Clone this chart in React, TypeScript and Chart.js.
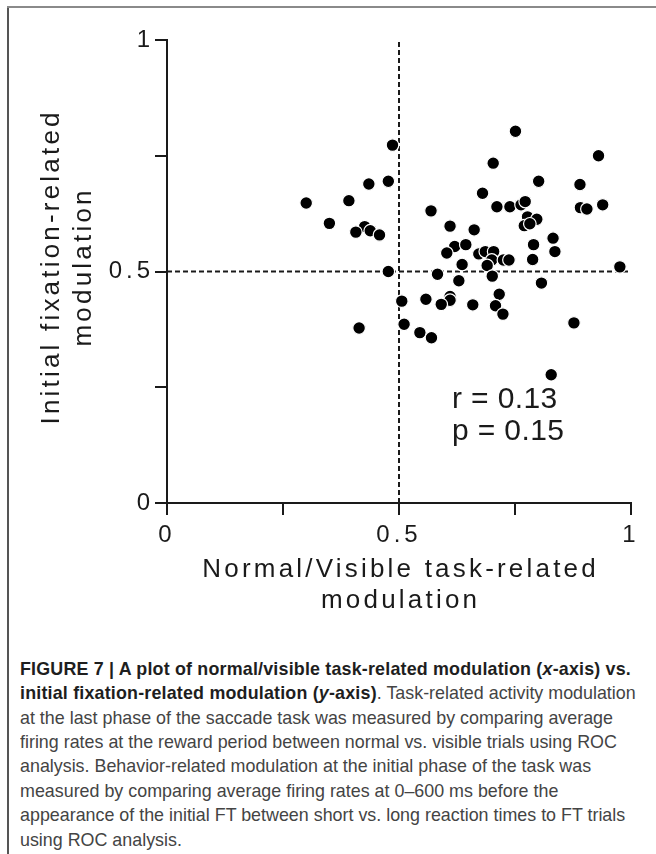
import React, { useEffect, useLayoutEffect, useRef } from 'react';
import { Chart, registerables } from 'chart.js';

Chart.register(...registerables);

// ---- data ----
const xValues = [
  0.486, 0.477, 0.435, 0.392, 0.300, 0.350, 0.426, 0.407, 0.438, 0.458, 0.477,
  0.751, 0.930, 0.703, 0.801, 0.890, 0.680, 0.569, 0.711, 0.739, 0.763, 0.772,
  0.891, 0.905, 0.939, 0.610, 0.777, 0.797, 0.770, 0.782, 0.662, 0.832, 0.620,
  0.644, 0.603, 0.790, 0.836, 0.672, 0.686, 0.704, 0.700, 0.690, 0.725, 0.737,
  0.788, 0.636, 0.976, 0.583, 0.629, 0.701, 0.807, 0.716, 0.506, 0.558, 0.610,
  0.610, 0.591, 0.659, 0.708, 0.724, 0.877, 0.511, 0.545, 0.570, 0.414, 0.828,
];
const yValues = [
  0.773, 0.695, 0.689, 0.653, 0.648, 0.604, 0.597, 0.585, 0.588, 0.579, 0.500,
  0.803, 0.750, 0.734, 0.695, 0.688, 0.669, 0.631, 0.640, 0.640, 0.644, 0.651,
  0.638, 0.635, 0.644, 0.598, 0.618, 0.613, 0.599, 0.603, 0.590, 0.572, 0.554,
  0.558, 0.540, 0.558, 0.543, 0.538, 0.543, 0.543, 0.525, 0.513, 0.525, 0.525,
  0.526, 0.515, 0.510, 0.494, 0.480, 0.490, 0.475, 0.451, 0.436, 0.440, 0.446,
  0.438, 0.429, 0.428, 0.426, 0.408, 0.389, 0.386, 0.368, 0.357, 0.378, 0.277,
];
const labeledTicks = [0, 0.5, 1];
const vRefX = [0.5, 0.5];
const vRefY = [0, 1];
const hRefX = [0, 1];
const hRefY = [0.5, 0.5];
const statLines = ['r = 0.13', 'p = 0.15'];
const xTitleLines = ['Normal/Visible task-related', 'modulation'];
const yTitleLines = ['Initial fixation-related', 'modulation'];

const AXIS_FONT = 'Arial, "Liberation Sans", Helvetica, sans-serif';
const INK = '#1a1a1a';

const textPlugin = {
  id: 'figureTexts',
  beforeDraw(chart: any) {
    chart.ctx.letterSpacing = '4px';
  },
  afterDraw(chart: any) {
    const { ctx, chartArea, scales } = chart;
    ctx.save();
    ctx.fillStyle = INK;
    ctx.font = `26px ${AXIS_FONT}`;
    ctx.letterSpacing = '3.2px';
    ctx.textAlign = 'center';
    ctx.textBaseline = 'alphabetic';
    const cx = (chartArea.left + chartArea.right) / 2 + 1.6;
    xTitleLines.forEach((t, i) => ctx.fillText(t, cx, chartArea.bottom + 74 + i * 31));
    const cy = (chartArea.top + chartArea.bottom) / 2 - 3;
    ctx.save();
    ctx.translate(51, cy);
    ctx.rotate(-Math.PI / 2);
    yTitleLines.forEach((t, i) => ctx.fillText(t, 1.6, i * 32));
    ctx.restore();

    ctx.font = `30px ${AXIS_FONT}`;
    ctx.letterSpacing = '0.4px';
    ctx.textAlign = 'left';
    const sx = scales.x.getPixelForValue(0.614);
    const sy = [0.205, 0.136];
    statLines.forEach((t, i) => ctx.fillText(t, sx, scales.y.getPixelForValue(sy[i])));
    ctx.restore();
  },
};

function ScatterFigure() {
  const canvasRef = useRef<HTMLCanvasElement | null>(null);

  useEffect(() => {
    document.body.style.overflow = 'hidden';
    const canvas = canvasRef.current;
    if (!canvas) return;
    const tickFont = { size: 24, family: AXIS_FONT };
    const gridOpts = {
      display: true,
      drawOnChartArea: false,
      drawTicks: true,
      tickLength: 12,
      lineWidth: 2,
      tickWidth: 2,
      color: INK,
      tickColor: INK,
    };
    const chart = new Chart(canvas, {
      type: 'scatter',
      data: {
        datasets: [
          {
            data: xValues.map((x, i) => ({ x, y: yValues[i] })),
            pointRadius: 6.3,
            pointHoverRadius: 6.3,
            backgroundColor: '#000',
            borderColor: '#fff',
            borderWidth: 1.2,
            order: 0,
          },
          {
            data: vRefX.map((x, i) => ({ x, y: vRefY[i] })),
            showLine: true,
            pointRadius: 0,
            borderColor: INK,
            borderWidth: 2,
            borderDash: [5, 3],
            order: 1,
          },
          {
            data: hRefX.map((x, i) => ({ x, y: hRefY[i] })),
            showLine: true,
            pointRadius: 0,
            borderColor: INK,
            borderWidth: 2,
            borderDash: [5, 3],
            order: 1,
          },
        ],
      },
      options: {
        animation: false,
        responsive: false,
        devicePixelRatio: 1,
        layout: { padding: { top: 32, right: 25, left: 0, bottom: 0 } },
        plugins: { legend: { display: false }, tooltip: { enabled: false } },
        events: [],
        scales: {
          x: {
            type: 'linear',
            min: 0,
            max: 1,
            afterFit: (s: any) => {
              s.height = 125;
            },
            border: { display: true, color: INK, width: 2 },
            grid: gridOpts,
            ticks: {
              stepSize: 0.25,
              autoSkip: false,
              maxRotation: 0,
              padding: 6,
              color: INK,
              font: tickFont,
              callback: (v: any) => (labeledTicks.includes(Number(v)) ? String(v) : ''),
            },
          },
          y: {
            type: 'linear',
            min: 0,
            max: 1,
            afterFit: (s: any) => {
              s.width = 159;
            },
            border: { display: true, color: INK, width: 2 },
            grid: gridOpts,
            ticks: {
              stepSize: 0.25,
              autoSkip: false,
              padding: 1,
              color: INK,
              font: tickFont,
              callback: (v: any) => (labeledTicks.includes(Number(v)) ? String(v) : ''),
            },
          },
        },
      } as any,
      plugins: [textPlugin],
    });
    return () => chart.destroy();
  }, []);

  return <canvas ref={canvasRef} width={648} height={620} style={{ display: 'block', width: 648, height: 620 }} />;
}

const captionFont = 'Arial, "Liberation Sans", Helvetica, sans-serif';

export default function App() {
  const bold: React.CSSProperties = { fontWeight: 700, color: '#1e1e1e', letterSpacing: '0.2px' };
  const captionRef = useRef<HTMLDivElement | null>(null);
  const refLineRef = useRef<HTMLSpanElement | null>(null);

  useLayoutEffect(() => {
    const box = captionRef.current;
    const span = refLineRef.current;
    if (!box || !span) return;
    box.style.transform = 'none';
    const w = span.getBoundingClientRect().width;
    if (w > 0) box.style.transform = `scaleX(${593 / w})`;
  }, []);

  return (
    <div>
      <div style={{ position: 'fixed', left: 7, top: 6, width: 1.5, height: 848, background: '#555' }} />
      <div style={{ position: 'fixed', left: 7, top: 6, right: 0, height: 2, background: '#8a8a8a' }} />
      <ScatterFigure />
      <div
        ref={captionRef}
        style={{
          marginTop: 28.8,
          marginLeft: 12,
          fontFamily: captionFont,
          fontSize: 19,
          lineHeight: '24.4px',
          color: '#444',
          whiteSpace: 'nowrap',
          transformOrigin: 'left top',
        }}
      >
        <div style={bold}>
          FIGURE 7 | A plot of normal/visible task-related modulation (<i>x</i>-axis) vs.
        </div>
        <div>
          <span style={bold}>
            initial fixation-related modulation (<i>y</i>-axis)
          </span>
          . Task-related activity modulation
        </div>
        <div>
          <span ref={refLineRef}>at the last phase of the saccade task was measured by comparing average</span>
        </div>
        <div>firing rates at the reward period between normal vs. visible trials using ROC</div>
        <div>analysis. Behavior-related modulation at the initial phase of the task was</div>
        <div>measured by comparing average firing rates at 0–600 ms before the</div>
        <div>appearance of the initial FT between short vs. long reaction times to FT trials</div>
        <div>using ROC analysis.</div>
      </div>
    </div>
  );
}
